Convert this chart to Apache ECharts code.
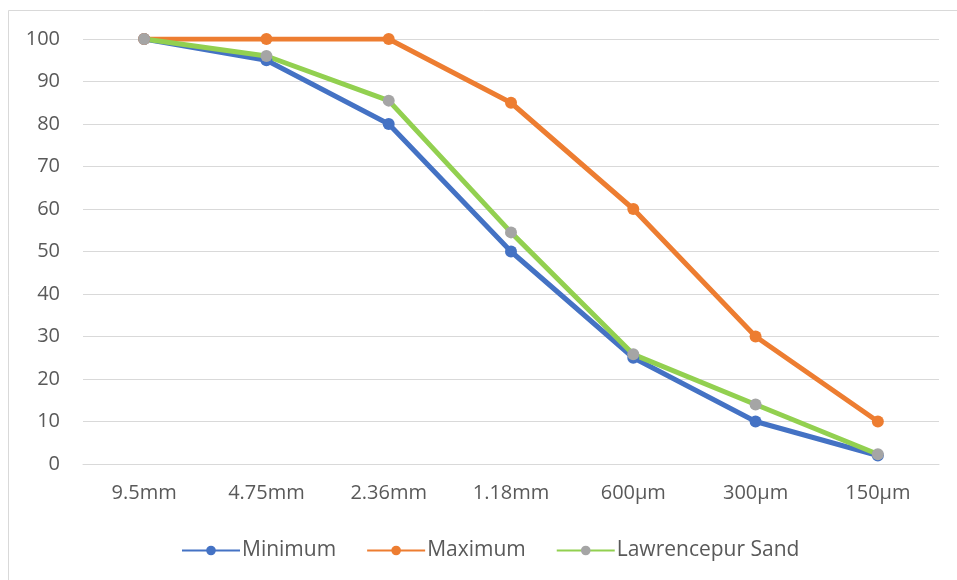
<!DOCTYPE html>
<html><head><meta charset="utf-8">
<script src="https://cdn.jsdelivr.net/npm/echarts@6/dist/echarts.min.js"></script>
<style>html,body{margin:0;padding:0;background:#fff}#c{width:957px;height:580px}</style>
</head><body><div id="c"></div>
<script>
const categories = ['9.5mm','4.75mm','2.36mm','1.18mm','600µm','300µm','150µm'];
const minimum = [100, 95, 80, 50, 25, 10, 2];
const maximum = [100, 100, 100, 85, 60, 30, 10];
const lawrencepur = [100, 96, 85.5, 54.5, 25.8, 14, 2.3];
const yTicks = {min: 0, max: 100, interval: 10};

const chart = echarts.init(document.getElementById('c'), null, {renderer: 'canvas'});
const font = '"Open Sans", "Noto Sans", sans-serif';
function series(name, data, line, marker) {
  return {
    name, type: 'line', data,
    symbol: 'circle', symbolSize: 12,
    lineStyle: {color: line, width: 5},
    itemStyle: {color: marker, borderWidth: 0},
    emphasis: {disabled: true},
    z: 2
  };
}
chart.setOption({
  animation: false,
  backgroundColor: '#fff',
  graphic: [{type: 'rect', shape: {x: 8.5, y: 10.5, width: 960, height: 580}, style: {fill: 'none', stroke: '#d9d9d9', lineWidth: 1}, silent: true}],
  grid: {left: 83, right: 18, top: 39, bottom: 116, containLabel: false},
  xAxis: {
    type: 'category', data: categories, boundaryGap: true,
    axisLine: {show: true, lineStyle: {color: '#d9d9d9', width: 1}},
    axisTick: {show: false},
    axisLabel: {color: '#595959', fontSize: 20, fontFamily: font, margin: 19}
  },
  yAxis: {
    type: 'value', min: yTicks.min, max: yTicks.max, interval: yTicks.interval,
    axisLine: {show: false}, axisTick: {show: false},
    splitLine: {lineStyle: {color: '#d9d9d9', width: 1}},
    axisLabel: {color: '#595959', fontSize: 20, fontFamily: font, margin: 23}
  },
  legend: {
    top: 535, left: 176, itemGap: 30, itemWidth: 58, itemHeight: 12,
    textStyle: {color: '#595959', fontSize: 21, fontFamily: font, padding: [0, 0, 0, -3]},
    data: ['Minimum','Maximum','Lawrencepur Sand']
  },
  series: [
    series('Minimum', minimum, '#4472c4', '#4472c4'),
    series('Maximum', maximum, '#ed7d31', '#ed7d31'),
    series('Lawrencepur Sand', lawrencepur, '#92d050', '#a5a5a5')
  ]
});
</script></body></html>
